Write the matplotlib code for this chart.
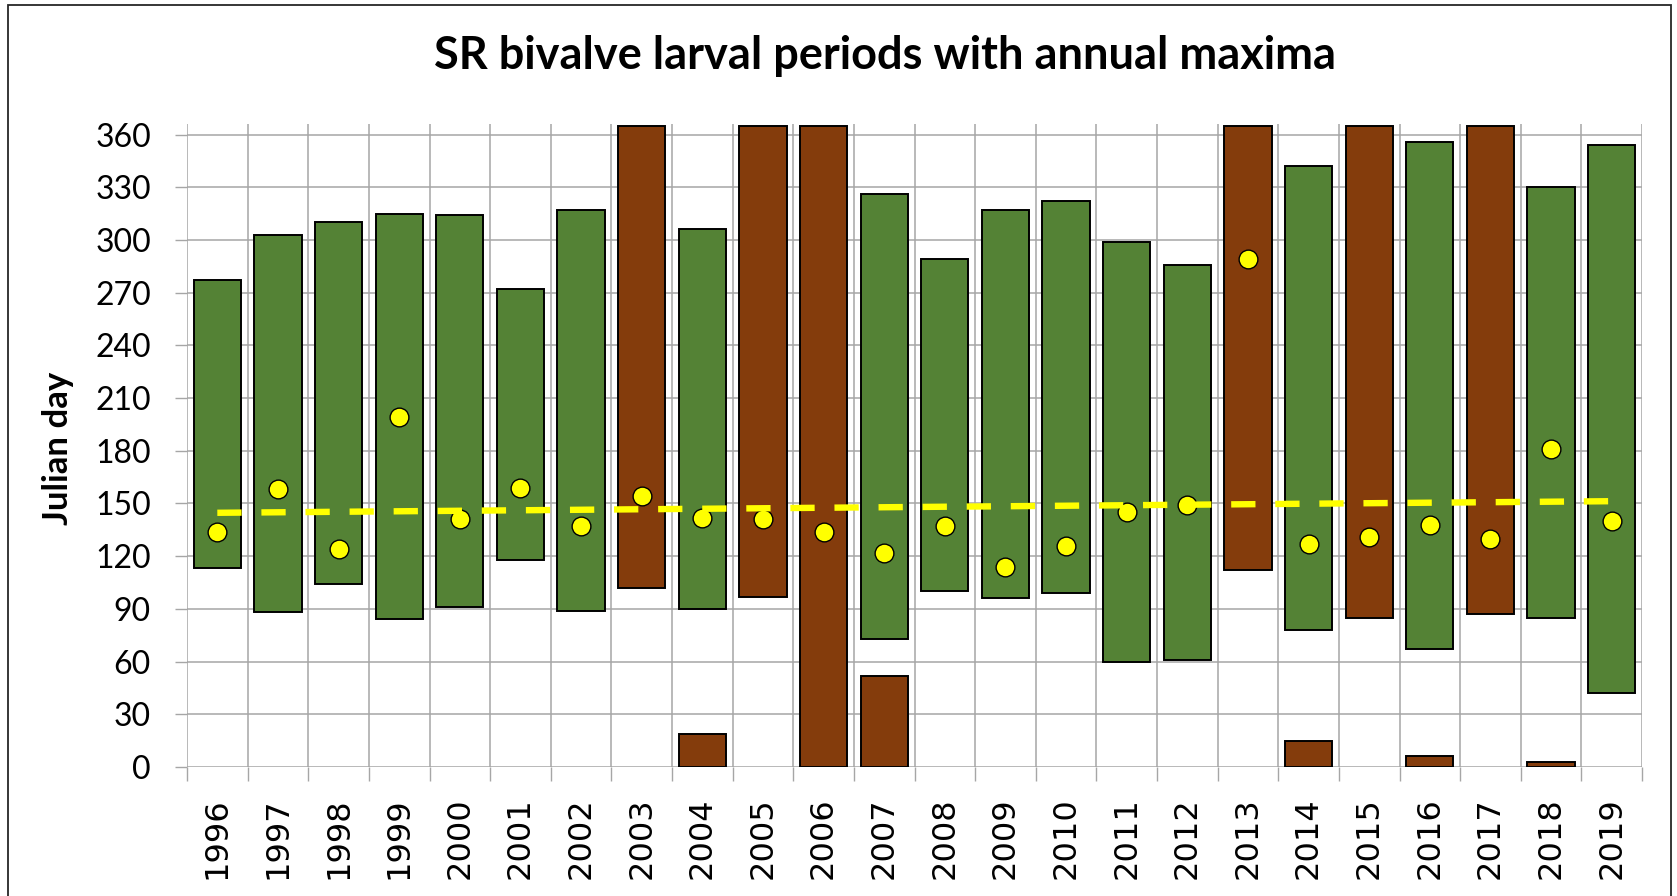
import numpy as np
import matplotlib
matplotlib.use("Agg")
import matplotlib.pyplot as plt
from matplotlib.patches import Rectangle

# ---------------- data ----------------
years = list(range(1996, 2020))
period_start = [113, 88, 104, 84, 91, 118, 89, 102, 90, 97, np.nan, 73,
                100, 96, 99, 60, 61, 112, 78, 85, 67, 87, 85, 42]
period_end = [277, 303, 310, 315, 314, 272, 317, 365, 306, 365, np.nan, 326,
              289, 317, 322, 299, 286, 365, 342, 365, 356, 365, 330, 354]
carryover_end = [0, 0, 0, 0, 0, 0, 0, 0, 19, 0, 365, 52,
                 0, 0, 0, 0, 0, 0, 15, 0, 6, 0, 3, 0]
annual_max = [134, 158, 124, 199, 141, 159, 137, 154, 142, 141, 134, 122,
              137, 114, 126, 145, 149, 289, 127, 131, 138, 130, 181, 140]
y_ticks = list(range(0, 361, 30))

GREEN = "#548235"
BROWN = "#843C0C"
YELLOW = "#FFFF00"
GRID = "#A6A6A6"

W, H = 1677, 896
fig = plt.figure(figsize=(W / 100, H / 100), dpi=100)
ax = fig.add_axes([187 / W, 1 - 767 / H, (1642 - 187) / W, (767 - 124) / H])

x = np.arange(len(years))
start = np.array(period_start, dtype=float)
end = np.array(period_end, dtype=float)
wraps = end >= 365
colors = [BROWN if w else GREEN for w in wraps]

bw = 0.78
ax.bar(x, end - start, bottom=start, width=bw, color=colors,
       edgecolor="black", linewidth=1.4, zorder=3)
carry = np.array(carryover_end, dtype=float)
ax.bar(x, carry, bottom=0, width=bw, color=BROWN,
       edgecolor=["black" if c > 0 else "none" for c in carry],
       linewidth=1.4, zorder=3)

ax.plot(x, annual_max, "o", markersize=13.5, markerfacecolor=YELLOW,
        markeredgecolor="black", markeredgewidth=1.0, zorder=4)

coef = np.polyfit(x, annual_max, 1)
ax.plot(x, np.polyval(coef, x), color=YELLOW, linewidth=4.6,
        linestyle=(0, (3.8, 3.1)), zorder=5)

ax.set_xlim(-0.5, len(years) - 0.5)
ax.set_ylim(0, 366)

for s in ax.spines.values():
    s.set_visible(False)

ax.set_yticks(y_ticks)
ax.set_yticklabels([str(v) for v in y_ticks], fontfamily="Lato", fontsize=23)
ax.tick_params(axis="y", which="major", length=9, width=1, color=GRID,
               pad=17, direction="out")
ax.yaxis.grid(True, color=GRID, linewidth=1.1, zorder=0)

ax.set_xticks(x)
ax.set_xticklabels([str(y) for y in years], rotation=90,
                   fontfamily="DejaVu Sans", fontsize=23)
ax.tick_params(axis="x", which="major", length=0, pad=22)
ax.set_xticks(np.arange(-0.5, len(years), 1.0), minor=True)
ax.tick_params(axis="x", which="minor", length=10, width=1, color=GRID,
               direction="out")
ax.xaxis.grid(True, which="minor", color=GRID, linewidth=1.1, zorder=0)
ax.xaxis.grid(False, which="major")
ax.set_axisbelow(True)

ax.set_ylabel("Julian day", fontfamily="Lato", fontweight="bold",
              fontsize=25)
ax.yaxis.set_label_coords((74 - 187) / (1642 - 187), (767 - 448) / (767 - 124))

fig.text(885 / W, 1 - 56 / H, "SR bivalve larval periods with annual maxima",
         ha="center", va="center", fontfamily="Lato", fontweight="bold",
         fontsize=32.5)

fig.patches.append(Rectangle((8 / W, -0.02), (1671 - 8) / W, 1 - 5 / H + 0.02,
                             transform=fig.transFigure, fill=False,
                             edgecolor="#262626", linewidth=1.3))

fig.savefig("out.png", dpi=100)
